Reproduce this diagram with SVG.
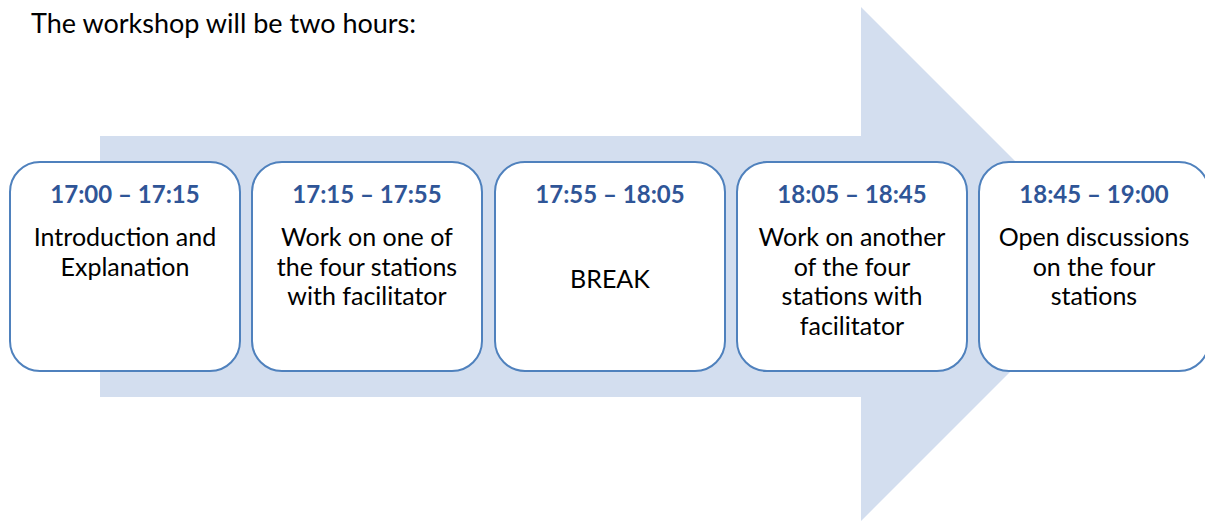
<svg xmlns="http://www.w3.org/2000/svg" width="1205" height="521" viewBox="0 0 1205 521">
  <style>
    .box { fill: #ffffff; stroke: #4f81bd; stroke-width: 2; }
    .time { font-family: Lato, "Open Sans", sans-serif; font-weight: bold; font-size: 24px; fill: #2f5597; text-anchor: middle; }
    .body { font-family: Lato, "Open Sans", sans-serif; font-size: 25px; fill: #000000; text-anchor: middle; }
    .title { font-family: Lato, "Open Sans", sans-serif; font-size: 27px; fill: #000000; }
  </style>
  <rect width="1205" height="521" fill="#ffffff"/>
  <text class="title" x="31" y="33">The workshop will be two hours:</text>

  <!-- background block arrow -->
  <g id="connectors">
    <polygon points="100,136 861,136 861,7 1118,264 861,521 861,397 100,397" fill="#d3deef"/>
  </g>

  <g id="step1">
    <rect class="box" x="10" y="162" width="230" height="209" rx="30"/>
    <text class="time" x="125" y="203">17:00 – 17:15</text>
    <text class="body" x="125" y="246">Introduction and</text>
    <text class="body" x="125" y="276">Explanation</text>
  </g>
  <g id="step2">
    <rect class="box" x="252" y="162" width="230" height="209" rx="30"/>
    <text class="time" x="367" y="203">17:15 – 17:55</text>
    <text class="body" x="367" y="246">Work on one of</text>
    <text class="body" x="367" y="276">the four stations</text>
    <text class="body" x="367" y="305">with facilitator</text>
  </g>
  <g id="step3">
    <rect class="box" x="495" y="162" width="230" height="209" rx="30"/>
    <text class="time" x="610" y="203">17:55 – 18:05</text>
    <text class="body" x="610" y="288">BREAK</text>
  </g>
  <g id="step4">
    <rect class="box" x="737" y="162" width="230" height="209" rx="30"/>
    <text class="time" x="852" y="203">18:05 – 18:45</text>
    <text class="body" x="852" y="246">Work on another</text>
    <text class="body" x="852" y="276">of the four</text>
    <text class="body" x="852" y="305">stations with</text>
    <text class="body" x="852" y="335">facilitator</text>
  </g>
  <g id="step5">
    <rect class="box" x="979" y="162" width="230" height="209" rx="30"/>
    <text class="time" x="1094" y="203">18:45 – 19:00</text>
    <text class="body" x="1094" y="246">Open discussions</text>
    <text class="body" x="1094" y="276">on the four</text>
    <text class="body" x="1094" y="305">stations</text>
  </g>
</svg>
